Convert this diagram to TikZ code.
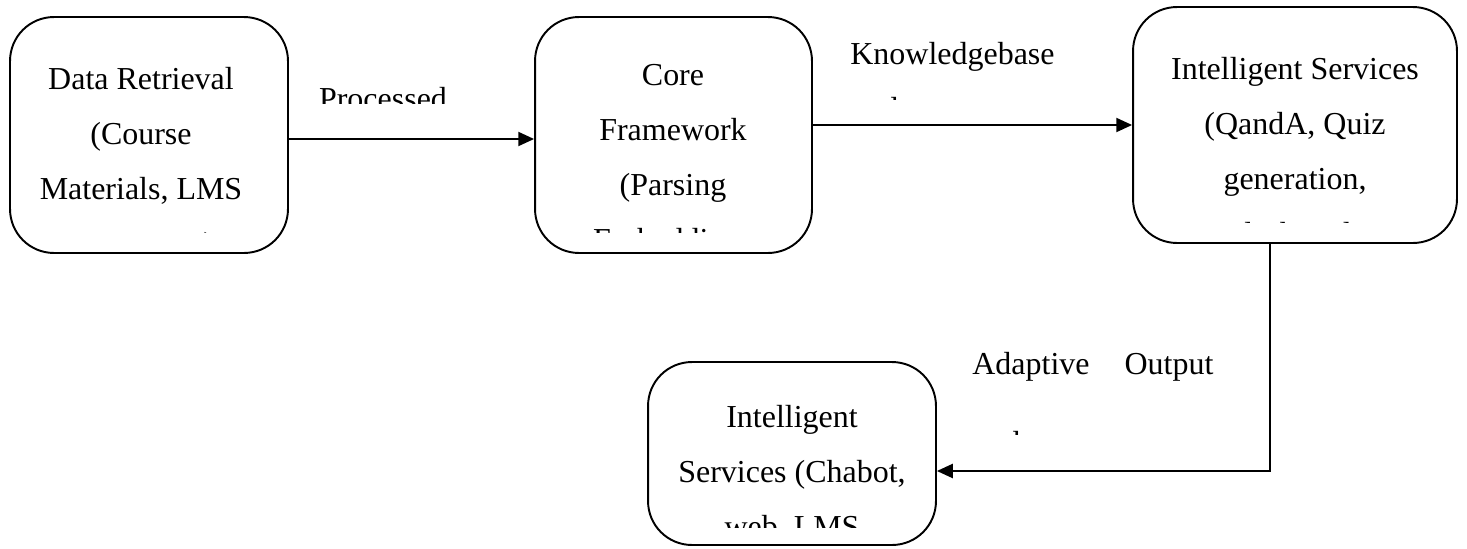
\documentclass[tikz,border=0pt]{standalone}
\usepackage{fontspec}
\setmainfont{Liberation Serif}
\usetikzlibrary{arrows.meta,positioning}

\tikzset{
  block/.style={draw, line width=1.1pt, rounded corners=25pt, inner sep=0pt},
  words/.style={align=center, inner sep=0pt, font=\fontsize{18.2}{31.3}\selectfont},
  flow/.style={line width=1.1pt, -{Triangle[length=9pt,width=8pt]}},
}

\begin{document}
\begin{tikzpicture}[x=0.02cm, y=-0.02cm]
\useasboundingbox (0,0) rectangle (1467,548);

% the four stages
\node[block, minimum width=5.56cm, minimum height=4.72cm] (retrieval) at (149,135) {};
\node[block, minimum width=5.54cm, minimum height=4.72cm] (core) at (673.5,135) {};
\node[block, minimum width=6.48cm, minimum height=4.72cm] (services) at (1295,125) {};
\node[block, minimum width=5.76cm, minimum height=3.66cm] (delivery) at (792,453.5) {};

% box texts, last line cut off by the text frame
\begin{scope}
\clip (retrieval.north west) rectangle (288,232);
\node[words, anchor=north] (retrievaltext) at (141,67) {Data Retrieval\\(Course\\Materials, LMS\\Data Input)};
\end{scope}
\begin{scope}
\clip (core.north west) rectangle (812,232);
\node[words, anchor=north] (coretext) at (673,64) {Core\\Framework\\(Parsing\\Embeddings};
\end{scope}
\begin{scope}
\clip (services.north west) rectangle (1457,222);
\node[words, anchor=north] (servicestext) at (1295,57) {Intelligent Services\\(QandA, Quiz\\generation,\\Flashcards};
\end{scope}
\begin{scope}
\clip (delivery.north west) rectangle (936,527);
\node[words, anchor=north] (deliverytext) at (792,405) {Intelligent\\Services (Chabot,\\web, LMS};
\end{scope}

% connectors
\draw[flow] ([yshift=-0.08cm]retrieval.east) -- ([yshift=-0.08cm]core.west);
\draw[flow] (core.east |- services.west) -- (services.west);
\draw[flow] ([xshift=-0.5cm]services.south) |- ([yshift=-0.35cm]delivery.east);

% edge labels
\begin{scope}
\clip (290,80) rectangle (530,103);
\node[words, anchor=north] (proclabel) at (383,87) {Processed};
\end{scope}
\begin{scope}
\clip (840,30) rectangle (1120,99);
\node[words, anchor=north west, align=left] (kblabel) at (850,42) {Knowledgebase\\updates};
\end{scope}
\begin{scope}
\clip (960,340) rectangle (1260,434);
\node[words, anchor=north west, align=left] (outlabel) at (972,352) {Adaptive\hspace{0.7cm}Output\\[0.48cm]updates};
\end{scope}
\end{tikzpicture}
\end{document}
